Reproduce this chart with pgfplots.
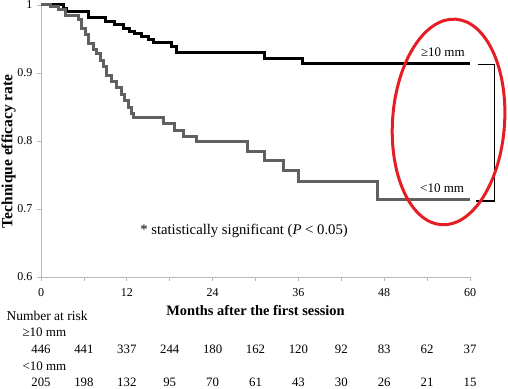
\documentclass[border=0pt]{standalone}
\usepackage{pgfplots}
\usepackage{pgfplotstable}
\pgfplotsset{compat=1.18}
\usepackage{fontspec}
\setmainfont{Liberation Serif}
\usetikzlibrary{shapes.geometric}
\definecolor{grayline}{RGB}{96,96,96}
\definecolor{axisgray}{RGB}{185,185,185}
\definecolor{annred}{RGB}{228,30,36}

\pgfplotstableread{
m v
0 1.000
3.1 0.995
3.6 0.991
6.6 0.982
9.0 0.975
10.3 0.971
11.5 0.966
12.4 0.961
13.1 0.958
14.1 0.953
15.0 0.949
15.7 0.945
18.3 0.939
19.0 0.930
31.3 0.922
36.6 0.914
60 0.914
}\bigtumor

\pgfplotstableread{
m v
0 1.000
1.3 0.998
2.4 0.993
3.4 0.984
5.2 0.978
5.7 0.966
6.2 0.956
6.6 0.943
7.3 0.934
7.8 0.929
8.3 0.919
8.8 0.909
9.2 0.897
9.9 0.887
10.5 0.878
11.2 0.868
11.7 0.859
12.2 0.849
12.6 0.840
12.9 0.834
17.1 0.826
18.7 0.816
19.9 0.807
21.8 0.799
28.9 0.784
31.2 0.771
33.9 0.757
36.0 0.741
47.0 0.714
60 0.714
}\smalltumor

\pgfplotstableread{
m big small
0 446 205
6 441 198
12 337 132
18 244 95
24 180 70
30 162 61
36 120 43
42 92 30
48 83 26
54 62 21
60 37 15
}\atrisk

\begin{document}
\begin{tikzpicture}
\path[use as bounding box] (0,0) rectangle (508pt,388pt);
\begin{axis}[
  at={(41pt,111pt)}, anchor=south west,
  scale only axis, width=429pt, height=272pt,
  xmin=0, xmax=60, ymin=0.6, ymax=1,
  axis x line*=bottom, axis y line*=left,
  axis line style={axisgray, line width=0.8pt, -},
  xtick={0,12,...,60}, minor xtick={6,18,...,54},
  ytick={0.6,0.7,0.8,0.9,1},
  tick style={axisgray, line width=0.8pt},
  major tick length=4pt, minor tick length=4pt,
  tick align=outside,
  /pgf/number format/assume math mode=true,
  xticklabel style={font=\fontsize{12}{14}\selectfont, anchor=base, yshift=-15.5pt},
  yticklabel style={font=\fontsize{12}{14}\selectfont, anchor=east, xshift=-1pt},
  xlabel={Months after the first session},
  xlabel style={at={(axis description cs:0.5,-0.125)}, anchor=center, font=\fontsize{14.4}{16}\selectfont\bfseries},
  ylabel={Technique efficacy rate},
  ylabel style={at={(axis description cs:-0.0758,0.462)}, anchor=center, font=\fontsize{15.5}{17}\selectfont\bfseries},
  clip=false,
]
\addplot[const plot, black, line width=3pt] table[x=m, y=v] {\bigtumor};
\addplot[const plot, grayline, line width=3pt] table[x=m, y=v] {\smalltumor};

% number at risk (values placed at their months)
\addplot[only marks, mark=none, nodes near coords, point meta=explicit symbolic,
  every node near coord/.style={anchor=base, font=\fontsize{12.8}{15}\selectfont, text=black}]
  table[x=m, y expr=0.4878, meta=big] {\atrisk};
\addplot[only marks, mark=none, nodes near coords, point meta=explicit symbolic,
  every node near coord/.style={anchor=base, font=\fontsize{12.8}{15}\selectfont, text=black}]
  table[x=m, y expr=0.4387, meta=small] {\atrisk};

% group labels
\node[anchor=base, font=\fontsize{13}{15}\selectfont] at (axis cs:56.2,0.924) {≥10 mm};
\node[anchor=base, font=\fontsize{13}{15}\selectfont] at (axis cs:56.1,0.724) {<10 mm};

% significance bracket
\draw[black, line width=1.1pt] (axis cs:61.07,0.9128) -- (axis cs:63.4,0.9128) -- (axis cs:63.4,0.7118) -- (axis cs:60.8,0.7118);
\node[font=\fontsize{8}{9}\selectfont, text=grayline] at (axis cs:64.8,0.8128) {*};

\node[anchor=base, font=\fontsize{14.7}{16}\selectfont] at (axis cs:28.4,0.6628) {* statistically significant (\textit{P} < 0.05)};

\node[anchor=base west, font=\fontsize{13.5}{15}\selectfont] at (axis cs:-5.31,0.5353) {Number at risk};
\node[anchor=base west, font=\fontsize{13}{15}\selectfont] at (axis cs:-3.08,0.5122) {≥10 mm};
\node[anchor=base west, font=\fontsize{13}{15}\selectfont] at (axis cs:-3.08,0.4632) {<10 mm};

% hand-drawn highlight
\node[draw=annred, line width=3pt, ellipse, minimum width=112pt, minimum height=206pt, rotate=-4, inner sep=0pt] at (axis cs:57.0,0.828) {};
\end{axis}
\end{tikzpicture}
\end{document}
